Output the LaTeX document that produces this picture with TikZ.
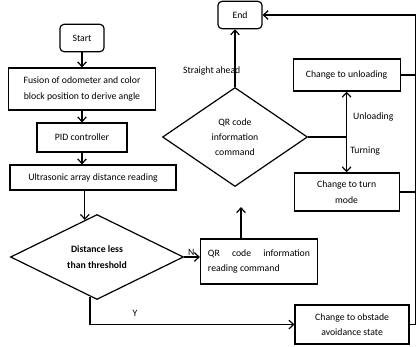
\documentclass[tikz,border=0pt]{standalone}
\usepackage{fontspec}
\setmainfont{Carlito}
\usetikzlibrary{positioning, arrows.meta, shapes.geometric, calc}

\tikzset{
  box/.style={draw, line width=0.9pt, align=center, inner sep=2pt},
  term/.style={box, rounded corners=3pt, minimum width=33pt, minimum height=20.5pt},
  choice/.style={draw, diamond, line width=0.9pt, align=center, inner sep=0pt},
  arr/.style={line width=0.9pt, -{Straight Barb[length=3.5pt,width=6.5pt]}},
  link/.style={line width=0.9pt}
}

\begin{document}
\begin{tikzpicture}[node distance=1cm, on grid, font=\fontsize{7.3}{11.5}\selectfont]
	\useasboundingbox (0,0) rectangle (314.25pt,-260.25pt);
	
	\node[term] (start) at (61.5pt,-28.5pt) {Start};
	\node[box, minimum width=110.25pt, minimum height=31.5pt] (fusion) [below=38.25pt of start] {Fusion of odometer and color\\block position to derive angle};
	\node[box, minimum width=67.5pt, minimum height=21.75pt] (pid) [below=36.4pt of fusion] {PID controller};
	\node[box, minimum width=124.5pt, minimum height=18.75pt] (ultra) [below=30pt of pid, xshift=8.25pt] {Ultrasonic array distance reading};
	\node[choice, minimum width=129.75pt, minimum height=63.75pt] (dist) [below=59.6pt of ultra, xshift=3pt] {\textbf{Distance less}\\\textbf{than threshold}};
	\node[box, minimum width=87.75pt, minimum height=33.75pt, text width=76.5pt, align=justify] (qrread) [right=121.5pt of dist, yshift=-3.4pt] {QR code information reading command};
	\node[choice, minimum width=108.75pt, minimum height=74.25pt] (qrcmd) [above=93.4pt of qrread, xshift=-18pt] {QR code\\information\\command};
	\node[term] (end) [above=91.5pt of qrcmd, xshift=3.75pt] {End};
	
	\coordinate (split) at ([xshift=28.9pt]qrcmd.east);
	\node[box, minimum width=80.25pt, minimum height=24pt] (unload) at ([yshift=46.5pt]split) {Change to unloading};
	\node[box, minimum width=78.75pt, minimum height=28.5pt] (turn) at ([yshift=-41.25pt]split) {Change to turn\\mode};
	\node[box, minimum width=85.5pt, minimum height=29.25pt] (avoid) [below=99.4pt of turn, xshift=4.1pt] {Change to obstade\\avoidance state};
	
	% helper points
	\coordinate (dtop) at ($(dist.north)!0.14!(dist.west)$);
	\coordinate (dbot) at ($(dist.south)!0.08!(dist.west)$);
	\coordinate (qrgap) at ([xshift=4.5pt,yshift=-15pt]qrcmd.south);
	\coordinate (bus) at ([xshift=4.5pt]avoid.east);
	
	\draw[arr] (start) -- (fusion);
	\draw[arr] (fusion) -- (pid);
	\draw[arr] (pid.south) -- (pid.south |- ultra.north);
	\draw[arr] (ultra.south -| dtop) -- (dtop);
	\draw[arr] (dist.east) -- (dist.east -| qrread.west) node[pos=0.45, above, inner sep=1pt] {N};
	\draw[arr] (dbot) |- (avoid.west) node[pos=0.61, above=2pt] {Y};
	\draw[arr] (qrread.north -| qrgap) -- (qrgap);
	\draw[arr] (qrcmd.north) -- (qrcmd.north |- end.south) node[pos=0.28, anchor=east, xshift=7.8pt] {Straight ahead};
	\draw[link] (qrcmd.east) -- (split);
	\draw[arr] (split) -- (unload.south) node[pos=0.45, right=1pt] {Unloading};
	\draw[arr] (split) -- (turn.north) node[pos=0.4, right=-1pt] {Turning};
	\draw[arr] (avoid.east) -- (bus) |- (end.east);
	\draw[link] (unload.east) -- (unload.east -| bus);
	\draw[link] (turn.east) -- (turn.east -| bus);
\end{tikzpicture}
\end{document}
